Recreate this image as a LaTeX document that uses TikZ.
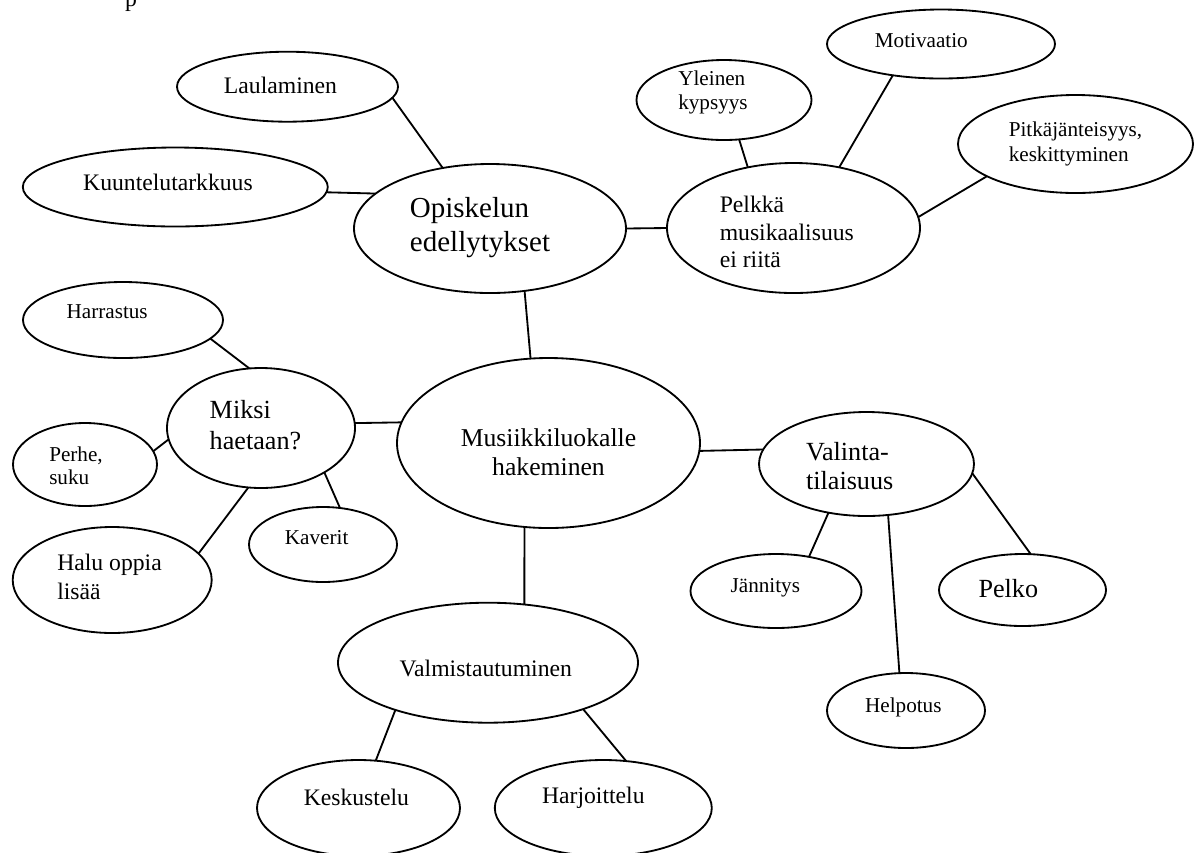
\documentclass[tikz,border=0pt]{standalone}
\usepackage{fontspec}
\setmainfont{Liberation Serif}
\usetikzlibrary{shapes.geometric}

\begin{document}
\begin{tikzpicture}[x=0.6pt,y=-0.6pt,
  bub/.style 2 args={ellipse, draw, line width=1.1pt, inner sep=0pt, outer sep=0pt,
    minimum width=#1*0.6pt, minimum height=#2*0.6pt},
  link/.style={line width=1.1pt},
  txt/.style={inner sep=0pt, align=left},
  fS/.style={txt, font=\fontsize{12.7pt}{15pt}\selectfont},
  fM/.style={txt, font=\fontsize{14.2pt}{17pt}\selectfont},
  fL/.style={txt, font=\fontsize{15.7pt}{18.6pt}\selectfont},
  fXL/.style={txt, font=\fontsize{17.4pt}{20.4pt}\selectfont}
]
\useasboundingbox (0,0) rectangle (1200,852);
\clip (0,0) rectangle (1200,852);

% tail of a text line running off the top edge
\node[fM, anchor=base] (pfrag) at (131,6.5) {p};

% central topic
\node[bub={303}{170}, label={[fL, font=\fontsize{15.4pt}{17.6pt}\selectfont, align=center, yshift=-5.4pt]center:{Musiikkiluokalle\\hakeminen}}] (musi) at (548.5,443) {};

% study requirements branch
\node[bub={272}{129}, label={[fXL, xshift=-6pt, yshift=0.6pt]center:{Opiskelun\\edellytykset}}] (opis) at (490,228.5) {};
\node[bub={221}{70}, label={[fM, xshift=-4.2pt, yshift=1pt]center:{Laulaminen}}] (laul) at (287.5,86.7) {};
\node[bub={305}{79}, label={[fM, xshift=-4.4pt, yshift=3pt]center:{Kuuntelutarkkuus}}] (kuun) at (175.3,187) {};
\node[bub={253}{130}, label={[fM, font=\fontsize{14.2pt}{16.5pt}\selectfont, xshift=-4pt, yshift=-2.4pt]center:{Pelkkä\\musikaalisuus\\ei riitä}}] (pelk) at (793.5,228) {};
\node[bub={175}{80}, label={[fS, font=\fontsize{12.7pt}{14.6pt}\selectfont, xshift=-6.6pt, yshift=4.5pt]center:{Yleinen\\kypsyys}}] (ylei) at (724,100) {};
\node[bub={228}{69}, label={[fS, xshift=-11.8pt, yshift=1.8pt]center:{Motivaatio}}] (moti) at (941,44) {};
\node[bub={235}{98}, label={[fS, font=\fontsize{12.7pt}{15.4pt}\selectfont]center:{Pitkäjänteisyys,\\keskittyminen}}] (pitk) at (1075.5,144) {};

% reasons branch
\node[bub={188}{120}, label={[fL, xshift=-3.3pt, yshift=1.8pt]center:{Miksi\\haetaan?}}] (miks) at (261,428) {};
\node[bub={200}{76}, label={[fS, xshift=-9.5pt, yshift=4.8pt]center:{Harrastus}}] (harr) at (123,320) {};
\node[bub={144}{83}, label={[fS, font=\fontsize{12.7pt}{14pt}\selectfont, xshift=-5.4pt, yshift=-0.9pt]center:{Perhe,\\suku}}] (perh) at (85,464.5) {};
\node[bub={148}{75}, label={[fS, xshift=-3.8pt, yshift=4pt]center:{Kaverit}}] (kave) at (323,544.5) {};
\node[bub={199}{106}, label={[fM, font=\fontsize{14.2pt}{17.4pt}\selectfont, xshift=-1.6pt, yshift=1.8pt]center:{Halu oppia\\lisää}}] (halu) at (112.2,580) {};

% audition branch
\node[bub={215}{104}, label={[fL, font=\fontsize{15.7pt}{17.6pt}\selectfont, xshift=-10.1pt, yshift=-1.1pt]center:{Valinta-\\tilaisuus}}] (vali) at (866.5,464) {};
\node[bub={171}{74}, label={[fS, xshift=-6.4pt, yshift=1.8pt]center:{Jännitys}}] (jann) at (776,591) {};
\node[bub={167}{72}, label={[fL, xshift=-8.5pt, yshift=0.7pt]center:{Pelko}}] (pelo) at (1022.5,590) {};
\node[bub={158}{75}, label={[fS, xshift=-1.6pt, yshift=2.1pt]center:{Helpotus}}] (help) at (906,710.5) {};

% preparation branch
\node[bub={300}{120}, label={[fM, xshift=-1.3pt, yshift=-3.6pt]center:{Valmistautuminen}}] (valm) at (488,662.7) {};
\node[bub={203}{96}, label={[fM, xshift=-1.3pt, yshift=6.6pt]center:{Keskustelu}}] (kesk) at (358.5,808) {};
\node[bub={217}{96}, label={[fM, xshift=-6pt, yshift=6pt]center:{Harjoittelu}}] (harj) at (603.3,808) {};

% connectors
\draw[link] (laul.354.6) -- (opis.128.2);
\draw[link] (kuun.358.2) -- (opis.163.4);
\draw[link] (opis.0) -- (pelk.180);
\draw[link] (ylei.291) -- (pelk.127.7);
\draw[link] (moti.213.6) -- (pelk.53.3);
\draw[link] (pitk.200.2) -- (pelk.5.5);
\draw[link] (opis.299.5) -- (musi.102.9);

\draw[link] (harr.348.6) -- (miks.101.3);
\draw[link] (perh.11.4) -- (miks.187.4);
\draw[link] (miks.325.7) -- (kave.65.6);
\draw[link] (miks.258.7) -- (halu.17.7);
\draw[link] (miks.3.7) -- (musi.172.1);

\draw[link] (musi.357.7) -- (vali.172.1);
\draw[link] (vali.232.9) -- (jann.46.6);
\draw[link] (vali.293.4) -- (help.100.6);
\draw[link] (vali.355.9) -- (pelo.77.1);

\draw[link] (musi.254.5) -- (valm.58.2);
\draw[link] (valm.207.7) -- (kesk.70.3);
\draw[link] (valm.334.9) -- (harj.64.2);
\end{tikzpicture}
\end{document}
